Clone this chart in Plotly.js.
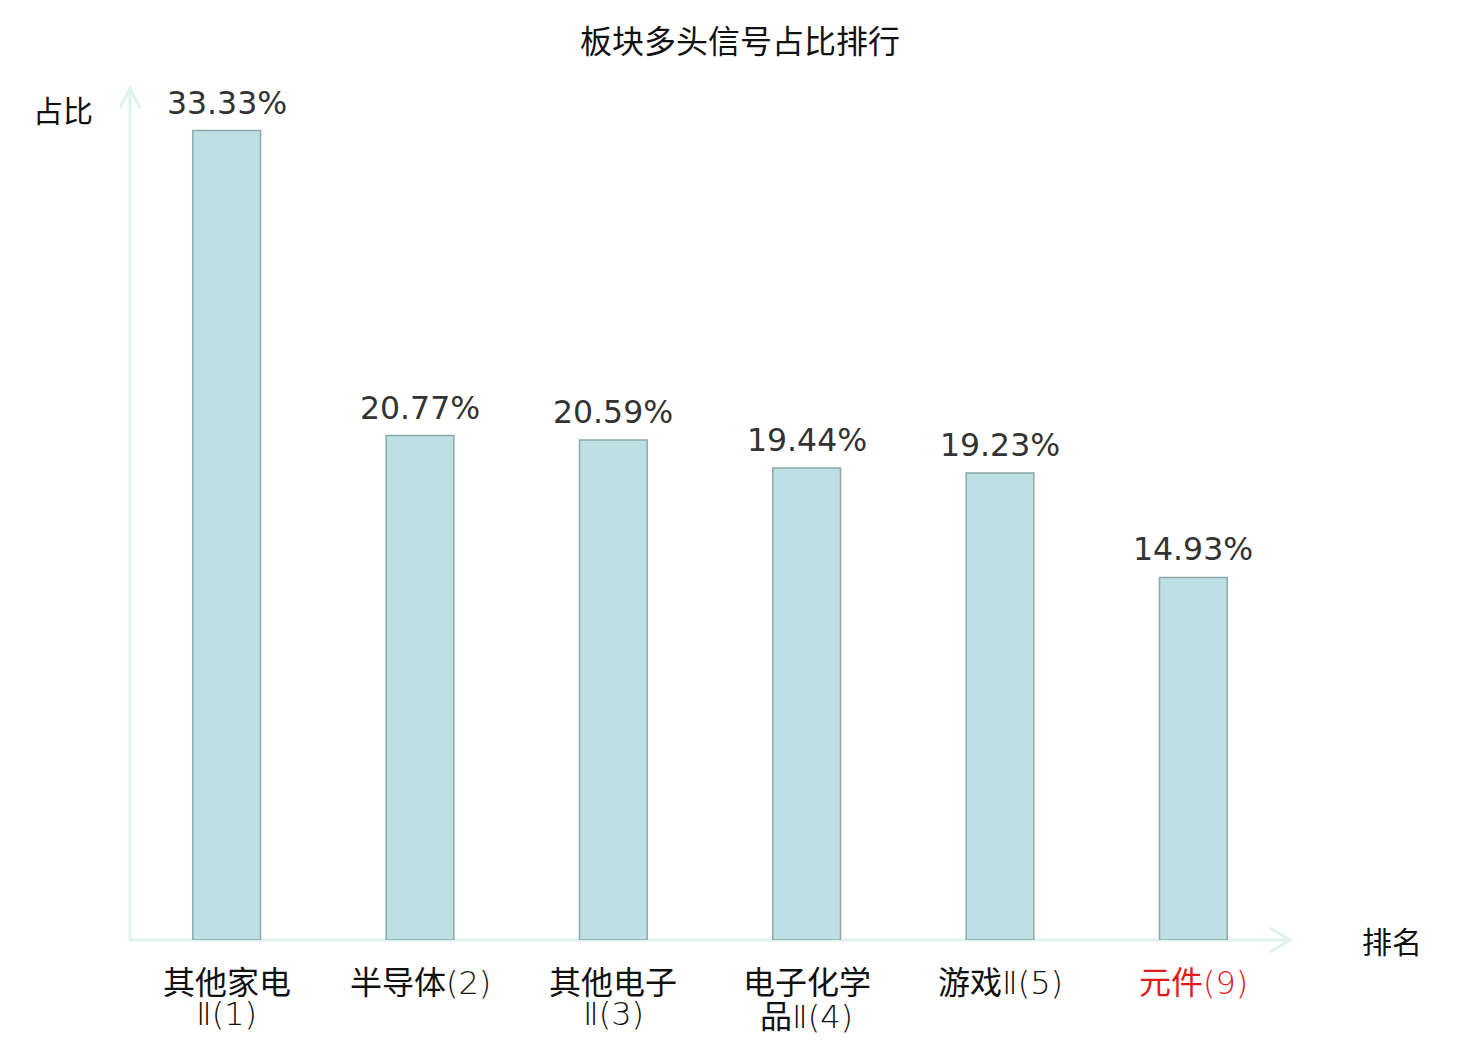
<!DOCTYPE html>
<html>
<head>
<meta charset="utf-8">
<script src="https://cdn.plot.ly/plotly-3.0.1.min.js"></script>
<style>
  html, body { margin: 0; padding: 0; background: #fff; }
  #chart { width: 1480px; height: 1040px; }
</style>
</head>
<body>
<div id="chart"></div>
<script>
const categories = ['其他家电Ⅱ(1)', '半导体(2)', '其他电子Ⅱ(3)', '电子化学品Ⅱ(4)', '游戏Ⅱ(5)', '元件(9)'];
const values = [33.33, 20.77, 20.59, 19.44, 19.23, 14.93];
// label lines as drawn: [cjk part, latin part]
const labelTop = [['其他家电', ''], ['半导体', '(2)'], ['其他电子', ''], ['电子化学', ''], ['游戏', 'Ⅱ(5)'], ['元件', '(9)']];
const labelBottom = [['', 'Ⅱ(1)'], ['', ''], ['', 'Ⅱ(3)'], ['品', 'Ⅱ(4)'], ['', ''], ['', '']];
const labelColors = ['#111', '#111', '#111', '#111', '#111', '#e41a1c'];

const cjkFont = '"Noto Sans CJK SC", "DejaVu Sans", sans-serif';
const axisColor = '#dff2ef';

function thinPart(parts) {
    if (!parts[1]) return parts[0];
    return parts[0] + '<span style="font-family:\'DejaVu Sans\';font-weight:200">' + parts[1] + '</span>';
}

const bars = {
    type: 'bar',
    x: categories,
    y: values,
    width: 0.35,
    marker: { color: '#bce0e3', line: { color: '#8ca9a9', width: 1.5 } },
    hoverinfo: 'none'
};

const annotations = [];
// value labels above each bar
categories.forEach((c, i) => {
    annotations.push({
        x: c, xref: 'x', y: values[i], yref: 'y', xanchor: 'center', yanchor: 'bottom', yshift: 8,
        text: values[i].toFixed(2) + '%', showarrow: false,
        font: { family: '"DejaVu Sans", sans-serif', size: 31.5, color: '#333' }
    });
});
// category labels as two annotation rows so the line spacing stays tight
categories.forEach((c, i) => {
    annotations.push({
        x: c, xref: 'x', y: 0, yref: 'paper', xanchor: 'center', yanchor: 'middle', yshift: -40,
        text: thinPart(labelTop[i]), showarrow: false,
        font: { family: cjkFont, size: 32, color: labelColors[i] }
    });
    if (labelBottom[i][0] || labelBottom[i][1]) {
        annotations.push({
            x: c, xref: 'x', y: 0, yref: 'paper', xanchor: 'center', yanchor: 'middle', yshift: -74,
            text: thinPart(labelBottom[i]), showarrow: false,
            font: { family: cjkFont, size: 32, color: labelColors[i] }
        });
    }
});
annotations.push({
    x: -0.058, xref: 'paper', y: 0.978, yref: 'paper', xanchor: 'center', yanchor: 'middle',
    text: '占比', showarrow: false,
    font: { family: cjkFont, size: 30, color: '#111' }
});
annotations.push({
    x: 1.088, xref: 'paper', y: 0, yref: 'paper', xanchor: 'center', yanchor: 'middle',
    text: '排名', showarrow: false,
    font: { family: cjkFont, size: 30, color: '#111' }
});

// axis lines with open chevron arrows (paper coords, plot area 1160 x 850 px)
const px = 1 / 1160, py = 1 / 850;
const lineStyle = { color: axisColor, width: 3 };
const shapes = [
    { type: 'line', xref: 'paper', yref: 'paper', x0: 0, y0: 0, x1: 0, y1: 1 + 2 * py, line: lineStyle, layer: 'below' },
    { type: 'line', xref: 'paper', yref: 'paper', x0: 0, y0: 0, x1: 1, y1: 0, line: lineStyle, layer: 'below' },
    { type: 'path', xref: 'paper', yref: 'paper', line: lineStyle,
      path: `M ${-10 * px} ${1 - 18 * py} L 0 ${1 + 2 * py} L ${10 * px} ${1 - 18 * py}` },
    { type: 'path', xref: 'paper', yref: 'paper', line: lineStyle,
      path: `M ${1 - 20 * px} ${12 * py} L 1 0 L ${1 - 20 * px} ${-12 * py}` }
];

const layout = {
    width: 1480,
    height: 1040,
    margin: { l: 130, r: 190, t: 90, b: 100 },
    paper_bgcolor: '#fff',
    plot_bgcolor: '#fff',
    showlegend: false,
    title: {
        text: '板块多头信号占比排行',
        x: 0.5, xref: 'container', xanchor: 'center',
        y: 1 - 42 / 1040, yref: 'container', yanchor: 'middle',
        font: { family: cjkFont, size: 32, color: '#111' }
    },
    xaxis: {
        type: 'category',
        range: [-0.5, 5.5],
        showgrid: false, zeroline: false, showline: false,
        showticklabels: false, ticks: ''
    },
    yaxis: {
        range: [0, 35],
        showgrid: false, zeroline: false, showline: false,
        showticklabels: false, ticks: ''
    },
    annotations: annotations,
    shapes: shapes
};

Plotly.newPlot('chart', [bars], layout, { displayModeBar: false, staticPlot: true });
</script>
</body>
</html>
